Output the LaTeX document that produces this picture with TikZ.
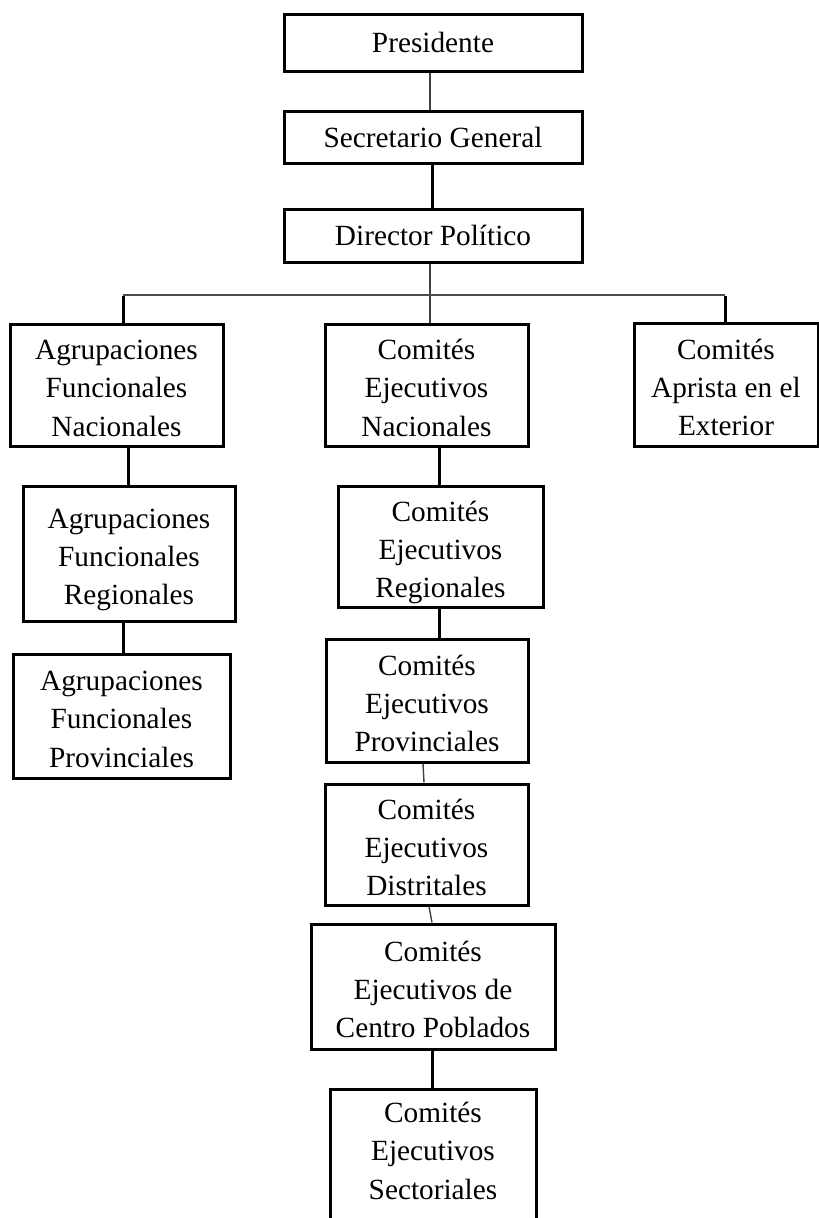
\documentclass[tikz,border=0pt]{standalone}
\usepackage{fontspec}
\setmainfont{Liberation Serif}
% stacked, centred lines whose baseline is that of the first line
\newcommand\stacked[1]{\begin{tabular}[t]{@{}c@{}}#1\end{tabular}}
\begin{document}
\begin{tikzpicture}[x=1pt,y=-1pt,
  labelfont/.style={font=\fontsize{29.3}{38.4}\selectfont},
  % fixed text metrics so every box places its text the same way
  multi/.style={labelfont,inner sep=0pt,text height=27pt,text depth=78pt},
  single/.style={labelfont,inner sep=0pt,text height=26pt,text depth=6pt},
  box/.style={draw=black,line width=3pt,rectangle},
  thick link/.style={draw=black,line width=3pt},
  thin link/.style={draw=black!75,line width=1.4pt},
  bus/.style={draw=black!70,line width=1.8pt}]
\clip (0,0) rectangle (819,1218);
\fill[white] (0,0) rectangle (819,1218);

% top chain
\node[box,single,minimum width=298pt,minimum height=57pt] (pres) at (433,42.5) {Presidente};
\node[box,single,minimum width=298pt,minimum height=52pt] (sec) at (433,137) {Secretario General};
\node[box,single,minimum width=298pt,minimum height=53pt] (dir) at (433,235.5) {Director Político};

% first level
\node[box,multi,minimum width=213pt,minimum height=122pt] (afn) at (116.5,385) {\stacked{Agrupaciones\\Funcionales\\Nacionales}};
\node[box,multi,minimum width=203pt,minimum height=122pt] (cen) at (426.5,385) {\stacked{Comités\\Ejecutivos\\Nacionales}};
\node[box,multi,minimum width=184pt,minimum height=123pt] (cae) at (726,384.5) {\stacked{Comités\\Aprista en el\\Exterior}};

% left branch
\node[box,multi,minimum width=212pt,minimum height=135pt] (afr) at (129,553.5) {\stacked{Agrupaciones\\Funcionales\\Regionales}};
\node[box,multi,minimum width=217pt,minimum height=124pt] (afp) at (121.5,716) {\stacked{Agrupaciones\\Funcionales\\Provinciales}};

% central branch
\node[box,multi,minimum width=205pt,minimum height=121pt] (cer) at (440.5,546.5) {\stacked{Comités\\Ejecutivos\\Regionales}};
\node[box,multi,minimum width=202pt,minimum height=123pt] (cep) at (427,700.5) {\stacked{Comités\\Ejecutivos\\Provinciales}};
\node[box,multi,minimum width=203pt,minimum height=121pt] (ced) at (426.5,844.5) {\stacked{Comités\\Ejecutivos\\Distritales}};
\node[box,multi,minimum width=244pt,minimum height=125pt] (cecp) at (433,986.5) {\stacked{Comités\\Ejecutivos de\\Centro Poblados}};
\node[box,minimum width=206pt,minimum height=150pt,anchor=north] (ces) at (433,1088) {};
\node[multi] (cestext) at (433,1148) {\stacked{Comités\\Ejecutivos\\Sectoriales}};

% distribution bus
\coordinate (busL) at (123,295);
\coordinate (busM) at (430,295);
\coordinate (busR) at (725,295);

% connectors
\draw[thin link] ([xshift=-3pt]pres.south) -- ([xshift=-3pt]sec.north);
\draw[thick link] ([xshift=-1pt]sec.south) -- ([xshift=-1pt]dir.north);
\draw[thin link] ([xshift=-3pt]dir.south) -- (busM) -- ([xshift=3.5pt]cen.north);
\draw[bus] (busL) -- (busR);
\draw[thick link] ([yshift=-0.9pt]busL) -- (busL |- afn.north);
\draw[thick link] ([yshift=-0.9pt]busR) -- (busR |- cae.north);
\draw[thick link] ([xshift=11.5pt]afn.south) -- ([xshift=-1pt]afr.north);
\draw[thick link] ([xshift=-6pt]afr.south) -- ([xshift=1.5pt]afp.north);
\draw[thick link] ([xshift=12.5pt]cen.south) -- ([xshift=-1.5pt]cer.north);
\draw[thick link] ([xshift=-1.5pt]cer.south) -- ([xshift=12pt]cep.north);
\draw[thin link] ([xshift=-4pt]cep.south) -- ([xshift=-2.5pt]ced.north);
\draw[thin link] ([xshift=2.5pt]ced.south) -- ([xshift=-1pt]cecp.north);
\draw[thick link] ([xshift=-1pt]cecp.south) -- ([xshift=-1pt]ces.north);
\end{tikzpicture}
\end{document}
